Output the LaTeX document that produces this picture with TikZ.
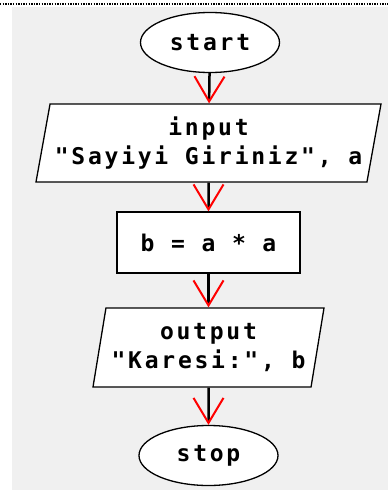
\documentclass[tikz,border=0pt]{standalone}
\usepackage{fontspec}
\newfontfamily\flowfont{DejaVu Sans Mono}[LetterSpace=12]
\usepackage{tikz}
\usetikzlibrary{shapes.geometric,arrows.meta,positioning}

\begin{document}
\begin{tikzpicture}[x=1pt,y=-1pt,
	every node/.style={font=\flowfont\bfseries\fontsize{23}{29}\selectfont,align=center,inner sep=0pt},
	term/.style={ellipse,draw,fill=white,line width=1.3pt,minimum width=139pt,minimum height=60pt},
	io/.style={trapezium,trapezium left angle=75,trapezium right angle=105,trapezium stretches body,draw,fill=white,line width=1.3pt},
	proc/.style={rectangle,draw,fill=white,line width=1.3pt,minimum width=183pt,minimum height=61pt},
	flow/.style={line width=2.5pt,-{Straight Barb[length=25pt,width=30pt,red,line width=2pt]}}]
	\useasboundingbox (0,0) rectangle (388,490);
	\fill[white] (0,0) rectangle (388,490);
	\fill[black!6] (12,7) rectangle (388,490);
	\draw[line width=2pt,dash pattern=on 1.3pt off 1.3pt] (0,4) -- (388,4);
	\node[term] (start) at (210,42.5) {start};
	\node[io,minimum width=345pt,minimum height=78pt] (input) at (208.5,143) {input\\"Sayiyi Giriniz", a};
	\node[proc] (calc) at (208.5,242.5) {b = a * a};
	\node[io,minimum width=231pt,minimum height=79pt] (output) at (208.5,347.5) {output\\"Karesi:", b};
	\node[term] (stop) at (208.5,455.5) {stop};
	\draw[flow] (start) -- (input);
	\draw[flow] (input) -- (calc);
	\draw[flow] (calc) -- (output);
	\draw[flow] (output) -- (stop);
\end{tikzpicture}
\end{document}
